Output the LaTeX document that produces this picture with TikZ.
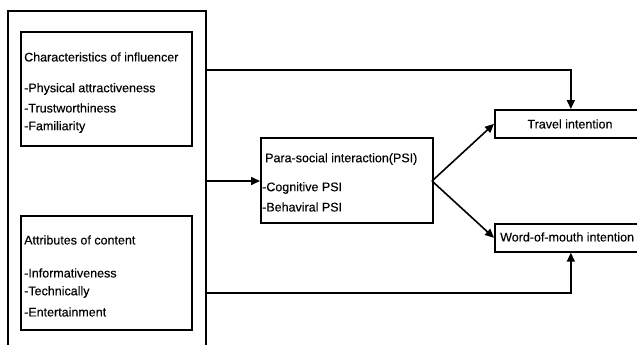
\documentclass[tikz,border=0pt]{standalone}
\usepackage{fontspec}
\setmainfont{Liberation Sans}[UprightFeatures={FakeBold=0.25}]
\usetikzlibrary{arrows.meta}
\begin{document}
\begin{tikzpicture}[x=1pt,y=-1pt,
  box/.style={draw,line width=1.7pt,rectangle,inner sep=0pt},
  lbl/.style={anchor=west,inner sep=0pt,font=\fontsize{12.5}{14}\selectfont},
  ctr/.style={inner sep=0pt,font=\fontsize{12.5}{14}\selectfont},
  arr/.style={line width=1.6pt,-{Triangle[length=9pt,width=8pt]}}]
\useasboundingbox (0,0) rectangle (637,345);
\clip (0,0) rectangle (637,345);
% outer box
\node[box,minimum width=198pt,minimum height=360pt,anchor=north west] (outer) at (7,10) {};
% inner boxes
\node[box,minimum width=171pt,minimum height=114pt,anchor=north west] (infl) at (20,31) {};
\node[lbl] (t1) at (24,57) {Characteristics of influencer};
\node[lbl] (t1a) at (24,89) {-Physical attractiveness};
\node[lbl] (t1b) at (24,108) {-Trustworthiness};
\node[lbl] (t1c) at (24,127) {-Familiarity};
\node[box,minimum width=171pt,minimum height=114pt,anchor=north west] (cont) at (20,215) {};
\node[lbl] (t2) at (24,240) {Attributes of content};
\node[lbl] (t2a) at (24,273) {-Informativeness};
\node[lbl] (t2b) at (24,292) {-Technically};
\node[lbl] (t2c) at (24,312) {-Entertainment};
% PSI box
\node[box,minimum width=172pt,minimum height=85pt,anchor=north west] (psi) at (260,137) {};
\node[lbl] (p1) at (265,159) {Para-social interaction(PSI)};
\node[lbl] (p2) at (262,188) {-Cognitive PSI};
\node[lbl] (p3) at (262,207) {-Behaviral PSI};
% outcome boxes
\node[box,minimum width=152pt,minimum height=28pt,anchor=north west] (travel) at (494,109) {};
\node[ctr] (tt) at (570,124) {Travel intention};
\node[box,minimum width=152pt,minimum height=28pt,anchor=north west] (wom) at (494,223) {};
\node[ctr,anchor=west] (wt) at (500,237) {Word-of-mouth intention};
% connectors
\coordinate (c1) at (205,70);
\coordinate (c2) at (205,181);
\coordinate (c3) at (205,293);
\draw[arr] (c1) -| (travel.north);
\draw[arr] (c2) -- (psi.west |- c2);
\draw[arr] (c3) -| (wom.south);
\coordinate (pe) at (432,181);
\draw[arr] (pe) -- (travel.west);
\draw[arr] (pe) -- (wom.west);
\end{tikzpicture}
\end{document}
